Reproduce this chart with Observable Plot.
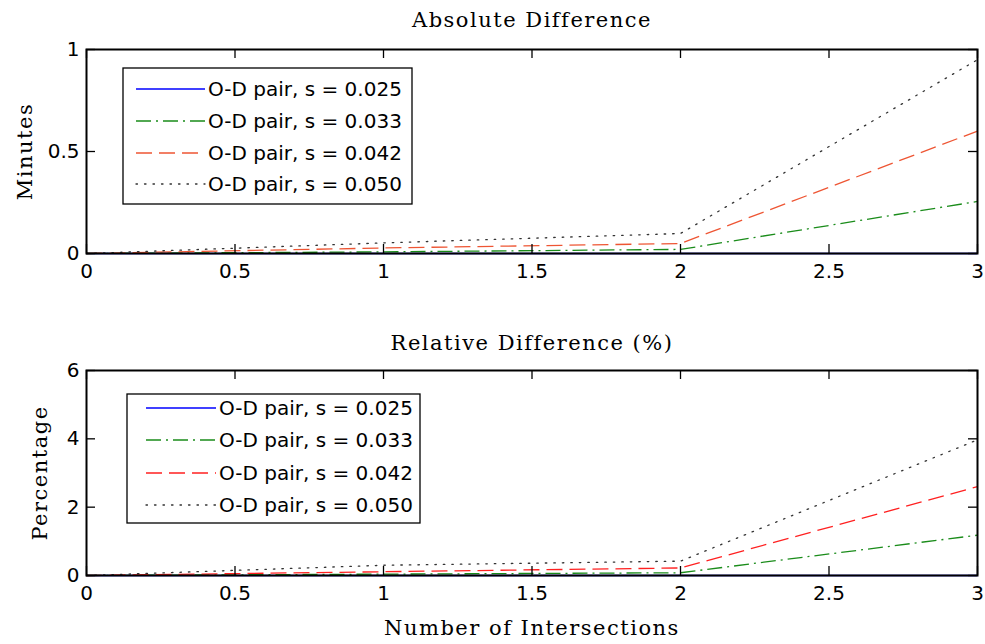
<!DOCTYPE html>
<html><head><meta charset="utf-8">
<script src="https://cdn.jsdelivr.net/npm/d3@7"></script>
<script src="https://cdn.jsdelivr.net/npm/@observablehq/plot@0.6"></script>
<style>
body{margin:0;background:#fff;}
#chart{width:985px;height:644px;overflow:hidden;}
svg{display:block;}
</style></head><body><div id="chart"></div>
<script>
// ---- data ----
const intersections = [0, 1, 2, 3];
const seriesLabels = ["O-D pair, s = 0.025", "O-D pair, s = 0.033", "O-D pair, s = 0.042", "O-D pair, s = 0.050"];
// Absolute difference (minutes)
const absS025 = [0, 0, 0, 0];
const absS033 = [0, 0.008, 0.02, 0.255];
const absS042 = [0, 0.027, 0.049, 0.6];
const absS050 = [0, 0.052, 0.098, 0.95];
// Relative difference (%)
const relS025 = [0, 0, 0, 0];
const relS033 = [0, 0.04, 0.08, 1.18];
const relS042 = [0, 0.11, 0.22, 2.6];
const relS050 = [0, 0.3, 0.42, 3.97];
const xTicks = [0, 0.5, 1, 1.5, 2, 2.5, 3];
const absTicks = [0, 0.5, 1];
const relTicks = [0, 2, 4, 6];

const serifFont = "DejaVu Serif";
const sansFont = "DejaVu Sans";

function panel(opts) {
  const {values, yDomain, yTicks, title, ylabel, xlabel, height, marginTop, marginBottom,
         colors, ylabelDx, titleDy, legend} = opts;
  const marginLeft = 86, marginRight = 8, width = 985;
  const plotW = width - marginLeft - marginRight;
  const plotH = height - marginTop - marginBottom;
  const dashes = [null, "15,5,2,5", "16,7", "1.5,7"];
  const lineMarks = values.map((vals, i) =>
    Plot.line(intersections.map((x, j) => ({x, y: vals[j]})), {
      x: "x", y: "y", stroke: colors[i], strokeWidth: 1.3,
      strokeDasharray: dashes[i] || undefined, strokeLinecap: i === 3 ? "round" : "butt"
    }));
  const serif = {fontFamily: serifFont, fontSize: 21, fill: "#000", lineAnchor: "middle", textAnchor: "middle"};
  const marks = [
    ...lineMarks,
    Plot.frame({stroke: "#000", strokeWidth: 2}),
    Plot.tickX(xTicks, {x: d => d, insetTop: plotH - 9, stroke: "#000", strokeWidth: 1.3}),
    Plot.tickX(xTicks, {x: d => d, insetBottom: plotH - 9, stroke: "#000", strokeWidth: 1.3}),
    Plot.tickY(yTicks, {y: d => d, insetRight: plotW - 9, stroke: "#000", strokeWidth: 1.3}),
    Plot.tickY(yTicks, {y: d => d, insetLeft: plotW - 9, stroke: "#000", strokeWidth: 1.3}),
    Plot.axisX({ticks: xTicks, tickSize: 0, tickPadding: 10, tickFormat: d => String(d), label: null, fill: "#000"}),
    Plot.axisY({ticks: yTicks, tickSize: 0, tickPadding: 7, tickFormat: d => String(d), label: null, fill: "#000"}),
    Plot.text([title], {text: d => d, frameAnchor: "top", dy: titleDy, ...serif}),
    Plot.text([ylabel], {text: d => d, frameAnchor: "left", rotate: -90, dx: ylabelDx, ...serif})
  ];
  if (xlabel) marks.push(Plot.text([xlabel], {text: d => d, frameAnchor: "bottom", dy: 53, ...serif}));
  const svg = Plot.plot({
    width, height, marginLeft, marginRight, marginTop, marginBottom,
    style: {fontFamily: sansFont, fontSize: "20px", color: "#000", background: "#fff"},
    x: {domain: [0, 3]},
    y: {domain: yDomain},
    marks
  });
  d3.select(svg).selectAll(`g[font-family='${serifFont}'] text`).attr("letter-spacing", "1.5px");
  // legend box
  const g = d3.select(svg).append("g").attr("text-anchor", "start");
  g.append("rect").attr("x", legend.x).attr("y", legend.y).attr("width", legend.w).attr("height", legend.h)
    .attr("fill", "#fff").attr("stroke", "#000").attr("stroke-width", 1.3);
  seriesLabels.forEach((lab, i) => {
    const y = legend.rows[i];
    g.append("line").attr("x1", legend.lx1).attr("x2", legend.lx2).attr("y1", y).attr("y2", y)
      .attr("stroke", colors[i]).attr("stroke-width", 1.3)
      .attr("stroke-dasharray", dashes[i]).attr("stroke-linecap", i === 3 ? "round" : "butt");
    g.append("text").attr("x", legend.tx).attr("y", y).attr("dy", "0.35em").attr("text-anchor", "start")
      .attr("font-family", sansFont).attr("font-size", 20).attr("fill", "#000").text(lab);
  });
  return svg;
}

const chart = document.getElementById("chart");
chart.appendChild(panel({
  values: [absS025, absS033, absS042, absS050],
  yDomain: [0, 1], yTicks: absTicks,
  title: "Absolute Difference", ylabel: "Minutes", xlabel: null,
  height: 300, marginTop: 49, marginBottom: 47,
  colors: ["#0000ff", "#1a8c1a", "#ee5533", "#333333"],
  ylabelDx: -61, titleDy: -29,
  legend: {x: 123, y: 68, w: 289, h: 136, rows: [89, 121, 153, 184], lx1: 136, lx2: 205, tx: 208}
}));
chart.appendChild(panel({
  values: [relS025, relS033, relS042, relS050],
  yDomain: [0, 6], yTicks: relTicks,
  title: "Relative Difference (%)", ylabel: "Percentage", xlabel: "Number of Intersections",
  height: 344, marginTop: 70, marginBottom: 69,
  colors: ["#0000ff", "#1a8c1a", "#ff2020", "#333333"],
  ylabelDx: -46, titleDy: -27,
  legend: {x: 127, y: 94, w: 293, h: 129, rows: [108, 140, 173, 205], lx1: 146, lx2: 216, tx: 219}
}));
</script></body></html>
